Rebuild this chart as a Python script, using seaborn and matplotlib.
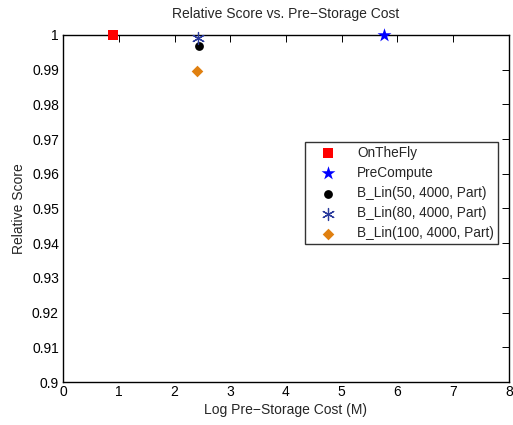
import pandas as pd
import seaborn as sns
import matplotlib.pyplot as plt

methods = ["OnTheFly", "PreCompute", "B_Lin(50, 4000, Part)",
           "B_Lin(80, 4000, Part)", "B_Lin(100, 4000, Part)"]
log_cost = [0.90, 5.76, 2.43, 2.42, 2.41]
rel_score = [1.0, 1.0, 0.9968, 0.9992, 0.9897]

colors = ["#ff0000", "#0000ff", "#000000", "#2a3a9c", "#e08010"]
markers = ["s", "*", "o", (6, 2, 0), "D"]
sizes = [55, 110, 40, 75, 35]

df = pd.DataFrame({"method": methods, "cost": log_cost, "score": rel_score})

sns.set_style("white")
plt.rcParams["font.family"] = ["Liberation Sans", "DejaVu Sans"]
plt.rcParams["font.size"] = 10

fig = plt.figure(figsize=(5.13, 4.25), dpi=100)
ax = fig.add_axes([0.123, 0.101, 0.869, 0.817])

for m, c, mk, s in zip(methods, colors, markers, sizes):
    sub = df[df["method"] == m]
    if m.startswith("B_Lin(80"):
        ax.scatter(sub["cost"], sub["score"], marker=mk, s=s, color=c,
                   linewidths=0.9, label=m, zorder=3, clip_on=False)
    else:
        sns.scatterplot(data=sub, x="cost", y="score", marker=mk, s=s,
                        color=c, linewidth=0, label=m, ax=ax, zorder=3,
                        clip_on=False)

ax.set_xlim(0, 8)
ax.set_ylim(0.9, 1.0)
ax.set_xticks(range(0, 9))
ax.set_yticks([0.9 + i * 0.01 for i in range(11)])
ax.set_yticklabels(["0.9", "0.91", "0.92", "0.93", "0.94", "0.95",
                    "0.96", "0.97", "0.98", "0.99", "1"])
ax.tick_params(direction="in", top=True, right=True, length=5, width=0.7,
               labelsize=10, colors="black", pad=3)
ax.tick_params(axis="x", pad=2)
for sp in ax.spines.values():
    sp.set_color("black")
    sp.set_linewidth(1.0)

ax.set_xlabel("Log Pre\u2212Storage Cost (M)", fontsize=10, labelpad=3)
ax.set_ylabel("Relative Score", fontsize=10)
ax.set_title("Relative Score vs. Pre\u2212Storage Cost", fontsize=10, pad=12)

leg = ax.legend(loc="upper left", bbox_to_anchor=(0.542, 0.692), fontsize=9.8,
                frameon=True, fancybox=False, edgecolor="black",
                borderpad=0.3, labelspacing=0.45, handlelength=2.8,
                handletextpad=0.75, borderaxespad=0)
leg.get_frame().set_linewidth(1.0)

fig.savefig("out.png", dpi=100)
